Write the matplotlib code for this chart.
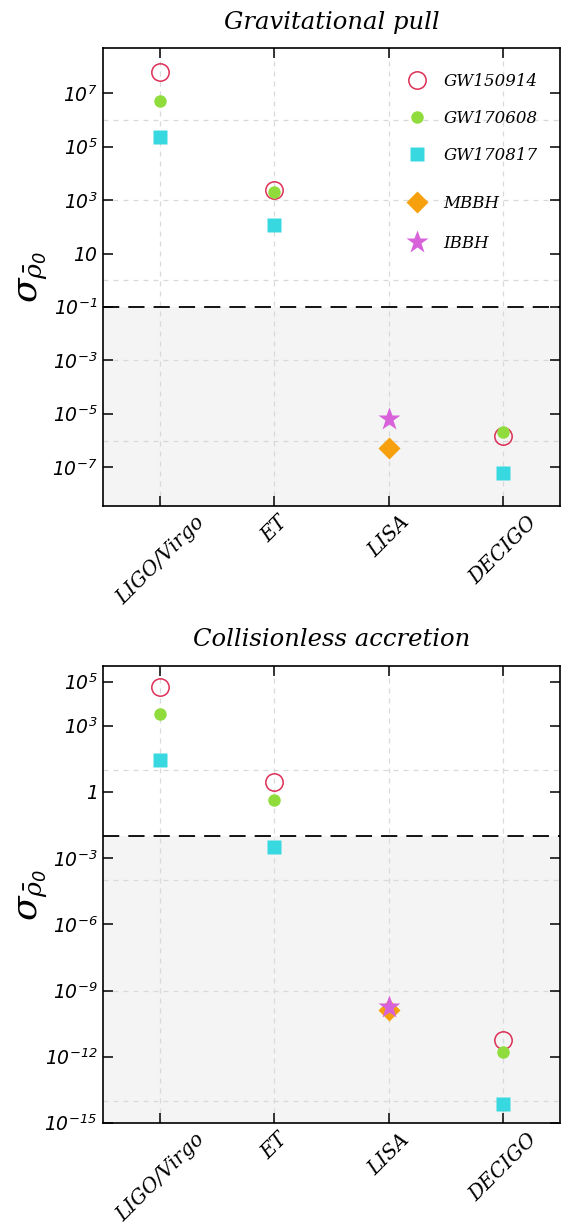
import numpy as np
import matplotlib
matplotlib.use("Agg")
import matplotlib.pyplot as plt
from matplotlib.ticker import FixedLocator, NullLocator

plt.rcParams['font.family'] = ['DejaVu Serif']
plt.rcParams['mathtext.fontset'] = 'custom'
plt.rcParams['mathtext.rm'] = 'DejaVu Sans:italic'
plt.rcParams['mathtext.it'] = 'DejaVu Serif:italic'
plt.rcParams['mathtext.bf'] = 'DejaVu Serif:bold'

# ---------------- data ----------------
detectors = ['LIGO/Virgo', 'ET', 'LISA', 'DECIGO']
nan = np.nan

# Gravitational pull
grav_gw150914 = [6.2e7, 2.5e3, nan, 1.5e-6]
grav_gw170608 = [5.2e6, 2.0e3, nan, 2.1e-6]
grav_gw170817 = [2.3e5, 1.15e2, nan, 6.1e-8]
grav_mbbh = [nan, nan, 5.2e-7, nan]
grav_ibbh = [nan, nan, 6.3e-6, nan]
grav_threshold = 1e-1
grav_ylim = (10**-8.44, 10**8.69)
grav_ticks = [1e7, 1e5, 1e3, 1e1, 1e-1, 1e-3, 1e-5, 1e-7]
grav_ticklabels = [r'$10^{7}$', r'$10^{5}$', r'$10^{3}$', r'$10$', r'$10^{-1}$',
                   r'$10^{-3}$', r'$10^{-5}$', r'$10^{-7}$']
grav_grid = [1e6, 1e3, 1e0, 1e-3, 1e-6]

# Collisionless accretion
acc_gw150914 = [5.9e4, 2.7, nan, 5.5e-12]
acc_gw170608 = [3.3e3, 0.45, nan, 1.6e-12]
acc_gw170817 = [27.0, 3.3e-3, nan, 7.0e-15]
acc_mbbh = [nan, nan, 1.3e-10, nan]
acc_ibbh = [nan, nan, 1.9e-10, nan]
acc_threshold = 1e-2
acc_ylim = (1e-15, 10**5.71)
acc_ticks = [1e5, 1e3, 1e0, 1e-3, 1e-6, 1e-9, 1e-12, 1e-15]
acc_ticklabels = [r'$10^{5}$', r'$10^{3}$', r'$1$', r'$10^{-3}$', r'$10^{-6}$',
                  r'$10^{-9}$', r'$10^{-12}$', r'$10^{-15}$']
acc_grid = [1e6, 1e1, 1e-4, 1e-9, 1e-14]

# ---------------- style ----------------
c_red = '#dc2f55'
c_green = '#8fdc3c'
c_cyan = '#38d8e0'
c_orange = '#f5a00c'
c_mag = '#d862da'
shade = '#f4f4f4'
gridc = '#d9d9d9'

fig = plt.figure(figsize=(5.61, 12.28), dpi=100)
ax1 = fig.add_axes([0.1836, 0.5882, 0.8146, 0.3725])
ax2 = fig.add_axes([0.1836, 0.0855, 0.8146, 0.3722])

x = np.arange(len(detectors))


def panel(ax, title, s150, s608, s817, mbbh, ibbh, thr, ylim, ticks, tlabels, grid, legend):
    ax.set_yscale('log')
    ax.set_xlim(-0.5, 3.5)
    ax.set_ylim(*ylim)
    ax.axhspan(ylim[0], thr, color=shade, zorder=0, lw=0)
    for g in grid:
        ax.axhline(g, color=gridc, lw=0.9, ls=(0, (4, 4)), zorder=1)
    for xi in x:
        ax.axvline(xi, color=gridc, lw=0.9, ls=(0, (4, 4)), zorder=1)
    ax.axhline(thr, color='black', lw=1.3, ls=(0, (9, 5)), zorder=2)

    h1, = ax.plot(x, s150, ls='none', marker='o', ms=12.5, mfc='none', mec=c_red, mew=1.1,
                  zorder=3, label='GW150914')
    h2, = ax.plot(x, s608, ls='none', marker='o', ms=9, mfc=c_green, mec='none',
                  zorder=4, label='GW170608')
    h3, = ax.plot(x, s817, ls='none', marker='s', ms=10, mfc=c_cyan, mec='none',
                  zorder=4, label='GW170817')
    h4, = ax.plot(x, mbbh, ls='none', marker='D', ms=11, mfc=c_orange, mec='none',
                  zorder=4, label='MBBH')
    h5, = ax.plot(x, ibbh, ls='none', marker='*', ms=17, mfc=c_mag, mec='none',
                  zorder=5, label='IBBH')

    ax.yaxis.set_major_locator(FixedLocator(ticks))
    ax.yaxis.set_minor_locator(NullLocator())
    ax.set_yticklabels(tlabels, fontsize=13.5)
    ax.set_xticks(x)
    ax.set_xticklabels(detectors, rotation=45, ha='center', fontstyle='italic', fontsize=14.5)
    ax.tick_params(axis='both', which='major', direction='in', length=7, width=1.1,
                   top=True, right=True, pad=4)
    ax.tick_params(axis='x', pad=5)
    for sp in ax.spines.values():
        sp.set_linewidth(1.2)
    ax.set_title(title, fontstyle='italic', fontsize=17.5, pad=14)
    ax.set_ylabel(r'$\sigma_{\bar{\rho}_0}$', fontsize=26)
    ax.yaxis.set_label_coords(-0.117, 0.5)

    if legend:
        leg1 = ax.legend(handles=[h1, h2, h3], loc='upper left', bbox_to_anchor=(0.669, 0.947),
                         frameon=False, prop={'style': 'italic', 'size': 12},
                         handlelength=1.05, handletextpad=1.05, labelspacing=1.2,
                         borderpad=0, borderaxespad=0, numpoints=1)
        ax.add_artist(leg1)
        ax.legend(handles=[h4, h5], loc='upper left', bbox_to_anchor=(0.669, 0.680),
                  frameon=False, prop={'style': 'italic', 'size': 12},
                  handlelength=1.05, handletextpad=1.05, labelspacing=1.4,
                  borderpad=0, borderaxespad=0, numpoints=1)


panel(ax1, 'Gravitational pull', grav_gw150914, grav_gw170608, grav_gw170817,
      grav_mbbh, grav_ibbh, grav_threshold, grav_ylim, grav_ticks, grav_ticklabels,
      grav_grid, True)
panel(ax2, 'Collisionless accretion', acc_gw150914, acc_gw170608, acc_gw170817,
      acc_mbbh, acc_ibbh, acc_threshold, acc_ylim, acc_ticks, acc_ticklabels,
      acc_grid, False)

fig.savefig('out.png', dpi=100)
